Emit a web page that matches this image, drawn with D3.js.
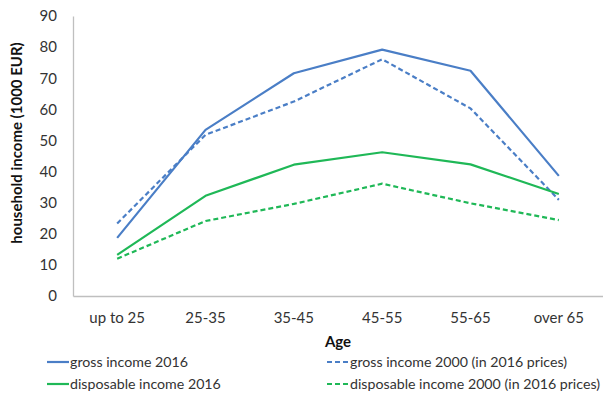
<!DOCTYPE html>
<html>
<head>
<meta charset="utf-8">
<script src="https://cdn.jsdelivr.net/npm/d3@7"></script>
<style>
  html, body { margin: 0; padding: 0; background: #fff; }
  svg { display: block; font-family: Lato, "Open Sans", sans-serif; }
</style>
</head>
<body>
<svg id="chart" width="603" height="396"></svg>
<script>
// Age groups and household income (1000 EUR)
const ageGroups = ["up to 25", "25-35", "35-45", "45-55", "55-65", "over 65"];
const gross2016 = [18.7, 53.4, 71.6, 79.2, 72.4, 38.6];
const gross2000 = [23.3, 51.8, 62.5, 76.1, 60.3, 30.9];
const disposable2016 = [13.2, 32.2, 42.2, 46.2, 42.3, 32.8];
const disposable2000 = [12.0, 24.1, 29.6, 36.1, 29.8, 24.4];
const yTicks = [0, 10, 20, 30, 40, 50, 60, 70, 80, 90];

const seriesList = [
  { name: "gross income 2016", values: gross2016, color: "#4a7ec6", dashed: false },
  { name: "gross income 2000 (in 2016 prices)", values: gross2000, color: "#4a7ec6", dashed: true },
  { name: "disposable income 2016", values: disposable2016, color: "#1fb857", dashed: false },
  { name: "disposable income 2000 (in 2016 prices)", values: disposable2000, color: "#1fb857", dashed: true }
];

const svg = d3.select("#chart");
const plot = { left: 73, right: 603, top: 16, bottom: 296 };

const x = d3.scaleBand().domain(ageGroups).range([plot.left, plot.right]);
const y = d3.scaleLinear().domain([0, 90]).range([plot.bottom, plot.top]);

const axisColor = "#bfbfbf";
const textColor = "#333";

// Y axis
const yAxis = svg.append("g")
  .attr("transform", `translate(${plot.left},0)`)
  .call(d3.axisLeft(y).tickValues(yTicks).tickSize(0).tickPadding(16));
yAxis.select(".domain").attr("stroke", axisColor).attr("stroke-width", 1.3);
yAxis.selectAll("text").attr("font-size", 15).attr("fill", textColor)
  .attr("font-family", "Lato, sans-serif");

// X axis
const xAxis = svg.append("g")
  .attr("transform", `translate(0,${plot.bottom})`)
  .call(d3.axisBottom(x).tickSize(0).tickPadding(16));
xAxis.select(".domain").attr("stroke", axisColor).attr("stroke-width", 1.3);
xAxis.selectAll("text").attr("font-size", 15).attr("fill", textColor)
  .attr("font-family", "Lato, sans-serif");

// Axis titles
svg.append("text")
  .attr("transform", `translate(22,${(plot.top + plot.bottom) / 2 - 13}) rotate(-90)`)
  .attr("text-anchor", "middle")
  .attr("font-size", 15).attr("font-weight", "bold").attr("fill", "#111")
  .text("household income (1000 EUR)");

svg.append("text")
  .attr("x", 338).attr("y", 347)
  .attr("text-anchor", "middle")
  .attr("font-size", 15).attr("font-weight", "bold").attr("fill", "#111")
  .text("Age");

// Series lines
const line = d3.line()
  .x((d, i) => x(ageGroups[i]) + x.bandwidth() / 2)
  .y(d => y(d));

svg.append("g").selectAll("path")
  .data(seriesList)
  .join("path")
  .attr("d", s => line(s.values))
  .attr("fill", "none")
  .attr("stroke", s => s.color)
  .attr("stroke-width", 2.2)
  .attr("stroke-dasharray", s => s.dashed ? "5,3" : null)
  .attr("stroke-linejoin", "round");

// Legend, two columns by two rows
const legendPos = [
  { x: 47, y: 362 }, { x: 327, y: 362 },
  { x: 47, y: 384 }, { x: 327, y: 384 }
];
const legend = svg.append("g").selectAll("g")
  .data(seriesList)
  .join("g")
  .attr("transform", (s, i) => `translate(${legendPos[i].x},${legendPos[i].y})`);
legend.append("line")
  .attr("x1", 0).attr("x2", 22).attr("y1", 0).attr("y2", 0)
  .attr("stroke", s => s.color).attr("stroke-width", 2.2)
  .attr("stroke-dasharray", s => s.dashed ? "5,3" : null);
legend.append("text")
  .attr("x", 23).attr("y", 0).attr("dy", "0.35em")
  .attr("font-size", 14.2).attr("fill", textColor)
  .text(s => s.name);
</script>
</body>
</html>
